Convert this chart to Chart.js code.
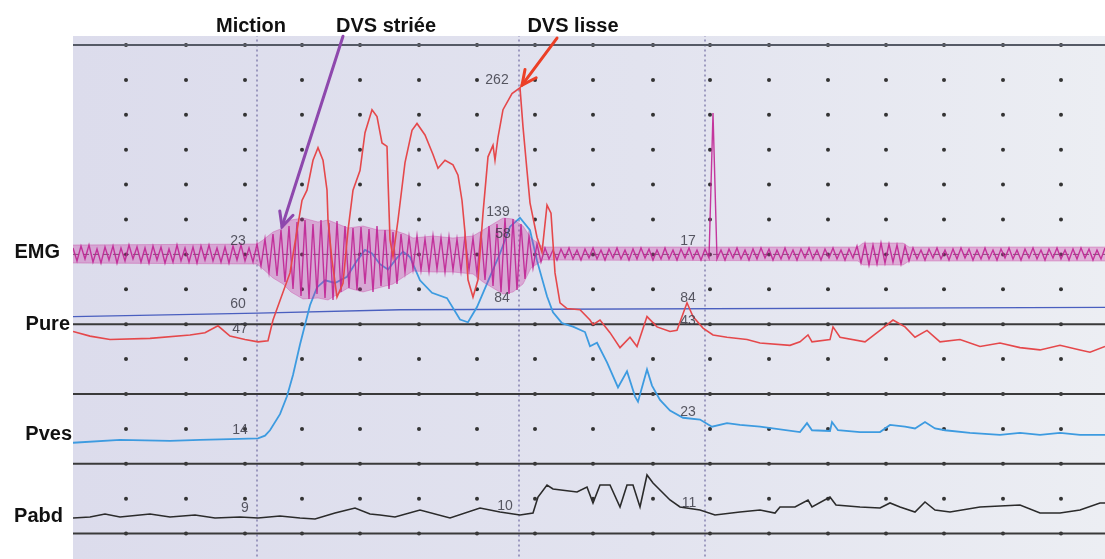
<!DOCTYPE html>
<html>
<head>
<meta charset="utf-8">
<script src="https://cdn.jsdelivr.net/npm/chart.js@4.4.1/dist/chart.umd.min.js"></script>
<style>
  html, body { margin: 0; padding: 0; background: #fff; }
  #wrap { width: 1105px; height: 559px; position: relative; }
</style>
</head>
<body>
<div id="wrap"><canvas id="trace"></canvas></div>
<script>
// time is in sample units along the recording (0 = left edge of the trace)
// Pure (urethral pressure, cmH2O)
var pureT = [0,17,37,77,117,132,145,157,172,185,195,200,207,217,229,234,240,245,250,254,255,259,264,270,275,280,287,292,299,304,309,314,315,317,320,325,332,339,344,352,360,365,372,380,385,389,392,395,400,405,410,415,420,422,425,430,439,447,450,454,457,464,469,474,478,482,487,494,507,517,520,527,537,547,557,564,574,584,597,604,614,620,630,640,654,674,687,717,727,735,739,757,760,767,792,807,820,832,842,854,867,887,907,927,947,967,987,1007,1017,1032];
var pureV = [50,46,43,44,47,49,55,46,43,41,42,60,77,101,164,173,199,210,199,173,147,112,80,92,138,173,190,223,243,237,214,211,182,130,115,147,197,225,231,221,204,192,199,195,186,164,136,95,80,95,153,202,212,199,219,243,257,262,228,190,162,132,119,160,153,101,75,70,69,60,56,60,49,36,45,37,63,54,50,51,75,63,53,47,45,43,40,38,41,47,41,43,54,45,41,51,60,54,45,51,41,43,37,40,36,34,38,34,32,37];

// Pves (bladder pressure, cmH2O)
var pvesT = [0,47,97,127,157,185,192,197,207,214,220,227,237,244,252,262,274,284,292,299,307,315,324,330,337,347,359,374,387,395,404,417,427,437,447,457,464,474,480,489,500,512,517,524,534,545,554,562,565,574,579,587,597,610,627,639,654,667,687,727,734,739,757,759,765,787,807,817,832,842,852,862,872,897,927,947,967,987,1007,1032];
var pvesV = [13,14.6,14,14.6,15,15.5,17,20,29,39,51,68,90,100,104,102.5,106,115,121,119,113,110,116.5,120,117,104,97,94,82,80.5,89,106,119,134,139,132,115,95,86,80,78,75,67,69,58,44,53,39,36,54,45,37,31,27,26,22,24,23,22,19,24,20,19.6,24.6,20,19,19,23,22,21,24.6,21,20,18.5,17.4,18.5,17.4,18.5,17.4,17.4];

// Pabd (abdominal pressure, cmH2O)
var pabdT = [0,17,32,47,77,97,122,142,167,185,207,227,242,262,282,297,307,322,347,377,407,427,447,460,465,474,480,504,514,520,527,537,547,554,560,567,574,580,597,607,627,642,667,687,702,707,722,735,739,757,763,787,807,817,827,842,852,862,877,907,947,967,987,1007,1027,1032];
var pabdV = [8.5,9,10.5,9,10.5,9,10,8.5,9,8.5,9.5,8.5,8,11,13.5,10.5,10,9,12.5,8.5,13.5,11.5,10,11,19,25,23,21.5,24,16,25,25,14,25,25,14,30,26,17.5,14,12.5,10,11.5,12.5,11,14,14,17.5,14,19,15,14,13.5,16,14,11.5,16.5,12.5,11.5,14,15,11,11,12.5,16,16];

// EMG, one sample every 4 time units
var emgStep = 4;
var emgRest = [6,-7,8,-5,9,-8,5,-9,7,-6, 8,-9,6,-7,9,-5,7,-8,6,-9, 8,-6,7,-9,5,-8,9,-7,6,-8, 7,-9,8,-6,9,-7,6,-8,7,-9, 8,-6,9,-7,6,-8,10];
var emgVoid = [-12,15,-18,20,-22,24,-28,28,-35,32, -42,34,-45,30,-40,34,-44,31,-46,33,
               -38,28,-34,26,-36,27,-30,25,-38,28, -32,24,-35,22,-30,20,-18,17,-15,18,
               -16,15,-17,18,-15,16,-18,17,-16,15, -17,18,-16,16,-20,22,-26,28,-32,30,
               -38,36,-40,35,-36,30,-25,18,-14,10,-8];
var emgAfter = [6,-5,4,-6,5,-4,6,-5,4,-6, 5,-4,6,-5,4,-6,5,-4,6,-5, 4,-6,5,-5,6,-4,5,-6,4,-5,
                6,-5,4,-6,5,-4,6,-5,4,-6, 5,-4,141,-5,4,-6,5,-4,6,-5, 4,-6,5,-5,6,-4,5,-6,4,-5,
                6,-5,4,-6,5,-4,6,-5,4,-6, 5,-4,6,-5,4,-6,5,-4,8,-9, 10,-11,9,-10,11,-9,10,-8,9,-10,
                8,-7,6,-5,4,-6,5,-4,6,-5, 4,-6,5,-5,6,-4,5,-6,4,-5, 6,-5,4,-6,5,-4,6,-5,4,-6,
                5,-4,6,-5,4,-6,5,-4,6,-5, 4,-6,5,-5,6,-4,5,-6,4,-5, 6];
// EMG activity envelope (upper / lower excursion)
var envT = [0,184,190,200,210,218,230,245,255,265,275,290,305,320,332,340,360,380,400,410,420,430,440,450,458,470,785,790,830,836,1032];
var envHi = [9,10,14,22,26,34,36,32,34,30,26,28,24,24,20,16,18,16,18,24,30,36,35,28,16,7,7,11,11,7,7];
var envLo = [-9,-10,-15,-24,-30,-38,-45,-44,-46,-40,-34,-38,-34,-30,-22,-17,-18,-18,-20,-28,-34,-40,-38,-30,-14,-6,-7,-11,-11,-7,-7];

// reference line drawn across the Pure channel
var refT = [0,185,327,1032];
var refV = [63,66,69,71];

// paper grid: dot columns (time) and rows (grid units), ruled rows, event markers
var dotCols = [53,113,172,229,287,346,404,462,520,580,637,696,755,813,871,930,988];
var dotRows = [0,1,2,3,4,5,6,7,8,9,10,11,12,13,14];
var ruledRows = [0,8,10,12,14];
var emgRow = 6;
var markerT = [184,446,632];

var channelNames = ['EMG','Pure','Pves','Pabd'];
var channelRows = [6.1,8.17,11.32,13.67];
var channelEnds = [-13,-3,-1,-10];

var eventNames = ['Miction','DVS striée','DVS lisse'];
var eventT = [178,313,500];

var readoutText = ['23','60','47','262','139','58','84','17','84','43','14','9','10','11','23'];
var readoutT = [165,165,167,424,425,430,429,615,615,615,167,172,432,616,615];
var readoutRow = [5.62,7.42,8.14,1.0,4.79,5.42,7.25,5.62,7.25,7.91,11.03,13.27,13.21,13.12,10.52];

function pts(ts, vs) { return ts.map(function (t, i) { return { x: t, y: vs[i] }; }); }

var emgAll = emgRest.concat(emgVoid, emgAfter);
var emgPts = emgAll.map(function (v, i) { return { x: i * emgStep, y: v }; });

var dotPts = [];
dotRows.forEach(function (r) { dotCols.forEach(function (c) { dotPts.push({ x: c, y: r }); }); });

var datasets = [
  { label: 'Pure', data: pts(pureT, pureV), yAxisID: 'yPure', borderColor: '#e5484b', borderWidth: 1.6, order: 1 },
  { label: 'EMG', data: emgPts, yAxisID: 'yEmg', borderColor: 'rgba(192,36,148,0.9)', borderWidth: 1.4, order: 2 },
  { label: 'EMG hi', data: pts(envT, envHi), yAxisID: 'yEmg', borderColor: 'rgba(196,40,150,0.3)', borderWidth: 1, order: 3 },
  { label: 'EMG lo', data: pts(envT, envLo), yAxisID: 'yEmg', borderColor: 'rgba(196,40,150,0.3)', borderWidth: 1,
    fill: '-1', backgroundColor: 'rgba(200,50,160,0.32)', order: 3 },
  { label: 'Pves', data: pts(pvesT, pvesV), yAxisID: 'yPves', borderColor: '#3d9be0', borderWidth: 1.8, order: 4 },
  { label: 'Pabd', data: pts(pabdT, pabdV), yAxisID: 'yPabd', borderColor: '#2b2b2b', borderWidth: 1.6, order: 4 },
  { label: 'ref', data: pts(refT, refV), yAxisID: 'yPure', borderColor: '#4a5fbf', borderWidth: 1.4, order: 5 },
  { label: 'dots', type: 'scatter', data: dotPts, yAxisID: 'yGrid', pointRadius: 2, pointBackgroundColor: '#333', pointBorderWidth: 0, order: 9 }
];
ruledRows.forEach(function (r) {
  datasets.push({ label: 'row' + r, data: [{ x: 0, y: r }, { x: 1032, y: r }], yAxisID: 'yGrid',
    borderColor: r === 0 ? '#555a66' : '#3a3a3a', borderWidth: 2, order: 7 });
});
datasets.push({ label: 'emgBase', data: [{ x: 0, y: emgRow }, { x: 1032, y: emgRow }], yAxisID: 'yGrid',
  borderColor: 'rgba(40,40,40,0.7)', borderWidth: 1, borderDash: [6, 4], order: 6 });
markerT.forEach(function (t) {
  datasets.push({ label: 'mark' + t, data: [{ x: t, y: -0.3 }, { x: t, y: 14.8 }], yAxisID: 'yGrid',
    borderColor: 'rgba(110,105,160,0.8)', borderWidth: 1.5, borderDash: [2, 3], order: 8 });
});

var paper = {
  id: 'paper',
  beforeDraw: function (chart) {
    var ctx = chart.ctx, a = chart.chartArea;
    ctx.save();
    ctx.fillStyle = '#fff';
    ctx.fillRect(0, 0, chart.width, chart.height);
    var g = ctx.createLinearGradient(a.left, 0, a.right, 0);
    g.addColorStop(0, '#dcdcec');
    g.addColorStop(0.55, '#e2e3ef');
    g.addColorStop(1, '#eceef3');
    ctx.fillStyle = g;
    ctx.fillRect(a.left, a.top, a.right - a.left, a.bottom - a.top);
    ctx.restore();
  }
};

function arrow(ctx, x0, y0, x1, y1, color) {
  var ang = Math.atan2(y1 - y0, x1 - x0), L = 16;
  ctx.strokeStyle = color; ctx.lineWidth = 3; ctx.lineCap = 'round';
  ctx.beginPath(); ctx.moveTo(x0, y0); ctx.lineTo(x1, y1); ctx.stroke();
  ctx.beginPath();
  ctx.moveTo(x1 - L * Math.cos(ang - 0.45), y1 - L * Math.sin(ang - 0.45));
  ctx.lineTo(x1, y1);
  ctx.lineTo(x1 - L * Math.cos(ang + 0.45), y1 - L * Math.sin(ang + 0.45));
  ctx.stroke();
}

var notes = {
  id: 'notes',
  afterDraw: function (chart) {
    var ctx = chart.ctx, x = chart.scales.x, g = chart.scales.yGrid;
    ctx.save();
    ctx.fillStyle = '#111';
    ctx.font = 'bold 20px "Liberation Sans", Arial, sans-serif';
    ctx.textAlign = 'center'; ctx.textBaseline = 'alphabetic';
    eventNames.forEach(function (n, i) { ctx.fillText(n, x.getPixelForValue(eventT[i]), g.getPixelForValue(-0.372)); });
    ctx.textAlign = 'right';
    channelNames.forEach(function (n, i) { ctx.fillText(n, x.getPixelForValue(channelEnds[i]), g.getPixelForValue(channelRows[i])); });

    ctx.font = '14px "Liberation Sans", Arial, sans-serif';
    ctx.fillStyle = 'rgba(60,60,70,0.85)';
    ctx.textAlign = 'center'; ctx.textBaseline = 'middle';
    readoutText.forEach(function (s, i) { ctx.fillText(s, x.getPixelForValue(readoutT[i]), g.getPixelForValue(readoutRow[i])); });

    arrow(ctx, x.getPixelForValue(270), g.getPixelForValue(-0.25), x.getPixelForValue(209), g.getPixelForValue(5.21), '#8e48ad');
    arrow(ctx, x.getPixelForValue(484), g.getPixelForValue(-0.2), x.getPixelForValue(449), g.getPixelForValue(1.15), '#ec3f26');
    ctx.restore();
  }
};

new Chart(document.getElementById('trace'), {
  type: 'line',
  data: { datasets: datasets },
  options: {
    responsive: true,
    maintainAspectRatio: false,
    animation: false,
    devicePixelRatio: 1,
    layout: { autoPadding: false, padding: { left: 73, top: 36, right: 0, bottom: 0 } },
    elements: { point: { radius: 0 }, line: { tension: 0 } },
    plugins: { legend: { display: false }, tooltip: { enabled: false }, title: { display: false } },
    scales: {
      x: { type: 'linear', min: 0, max: 1032, display: false },
      yGrid: { type: 'linear', min: -0.258, max: 14.728, reverse: true, display: false },
      yEmg: { type: 'linear', min: -305, max: 218, display: false },
      yPure: { type: 'linear', min: -147.9, max: 307.1, display: false },
      yPves: { type: 'linear', min: -52.1, max: 240.8, display: false },
      yPabd: { type: 'linear', min: -12, max: 249.5, display: false }
    }
  },
  plugins: [paper, notes]
});
</script>
</body>
</html>
